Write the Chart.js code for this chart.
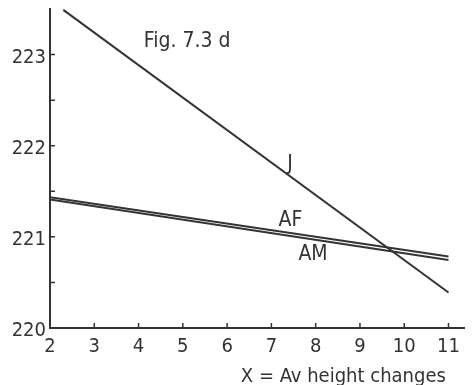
<!DOCTYPE html>
<html>
<head>
<meta charset="utf-8">
<script src="https://cdn.jsdelivr.net/npm/chart.js@4.4.1/dist/chart.umd.min.js"></script>
<style>
  html, body { margin: 0; padding: 0; background: #fff; }
  #wrap { width: 472px; height: 385px; }
</style>
</head>
<body>
<div id="wrap"><canvas id="myChart" width="472" height="385"></canvas></div>
<script>
// values
const xTicks = [2, 3, 4, 5, 6, 7, 8, 9, 10, 11];
const yTicks = [220, 221, 222, 223];
const yMinorTicks = [220.5, 221.5, 222.5];

const jX = [2.3, 11];
const jY = [223.49, 220.39];
const afX = [2, 11];
const afY = [221.435, 220.785];
const amX = [2, 11];
const amY = [221.41, 220.745];

// text written on the plot, placed in data units
const noteText = ['J', 'AF', 'AM', 'Fig. 7.3 d', 'X = Av height changes'];
const noteX = [7.42, 7.43, 7.94, 4.12, 10.94];
const noteY = [221.79, 221.18, 220.81, 223.14, 219.47];
const noteAlign = ['center', 'center', 'center', 'left', 'right'];
const noteSize = [21, 21, 21, 21, 20];

const ink = '#333';
const fontFamily = '"Liberation Sans Narrow", "DejaVu Sans Condensed", sans-serif';

function toPoints(xs, ys) {
    return xs.map((x, i) => ({ x: x, y: ys[i] }));
}

function lineSet(label, xs, ys) {
    return {
        label: label,
        data: toPoints(xs, ys),
        borderColor: ink,
        borderWidth: 2,
        pointRadius: 0,
        fill: false,
        tension: 0
    };
}

// small tick marks drawn inside the axes, as on the original
const innerTicks = {
    id: 'innerTicks',
    afterDraw(chart) {
        const ctx = chart.ctx;
        const xs = chart.scales.x;
        const ys = chart.scales.y;
        const area = chart.chartArea;
        ctx.save();
        ctx.strokeStyle = ink;
        ctx.lineWidth = 1.5;
        ctx.beginPath();
        yTicks.concat(yMinorTicks).forEach(v => {
            const py = ys.getPixelForValue(v);
            ctx.moveTo(area.left, py);
            ctx.lineTo(area.left + 5, py);
        });
        xTicks.forEach(v => {
            const px = xs.getPixelForValue(v);
            ctx.moveTo(px, area.bottom);
            ctx.lineTo(px, area.bottom - 5);
        });
        ctx.stroke();

        ctx.fillStyle = ink;
        ctx.textBaseline = 'middle';
        noteText.forEach((t, i) => {
            ctx.font = noteSize[i] + 'px ' + fontFamily;
            ctx.textAlign = noteAlign[i];
            ctx.fillText(t, xs.getPixelForValue(noteX[i]), ys.getPixelForValue(noteY[i]));
        });
        ctx.restore();
    }
};

const ctx = document.getElementById('myChart').getContext('2d');
new Chart(ctx, {
    type: 'line',
    data: {
        datasets: [
            lineSet('J', jX, jY),
            lineSet('AF', afX, afY),
            lineSet('AM', amX, amY)
        ]
    },
    options: {
        responsive: false,
        animation: false,
        layout: { padding: { left: 0, right: 8, top: 9, bottom: 0 } },
        plugins: {
            legend: { display: false },
            tooltip: { enabled: false }
        },
        scales: {
            x: {
                type: 'linear',
                min: 2,
                max: 11.35,
                afterFit(scale) {
                    scale.height = 57;
                    scale.paddingLeft = 0;
                    scale.paddingRight = 0;
                },
                afterBuildTicks(scale) { scale.ticks = xTicks.map(v => ({ value: v })); },
                grid: { display: false, drawTicks: false, tickLength: 0 },
                border: { display: true, color: ink, width: 2 },
                ticks: {
                    color: ink,
                    padding: 7,
                    maxRotation: 0,
                    font: { family: fontFamily, size: 20 }
                }
            },
            y: {
                type: 'linear',
                min: 220,
                max: 223.5,
                afterFit(scale) {
                    scale.width = 50;
                    scale.paddingTop = 0;
                    scale.paddingBottom = 0;
                },
                afterBuildTicks(scale) { scale.ticks = yTicks.map(v => ({ value: v })); },
                grid: { display: false, drawTicks: false, tickLength: 0 },
                border: { display: true, color: ink, width: 2 },
                ticks: {
                    color: ink,
                    padding: 4,
                    labelOffset: 3,
                    font: { family: fontFamily, size: 20 }
                }
            }
        }
    },
    plugins: [innerTicks]
});
</script>
</body>
</html>
